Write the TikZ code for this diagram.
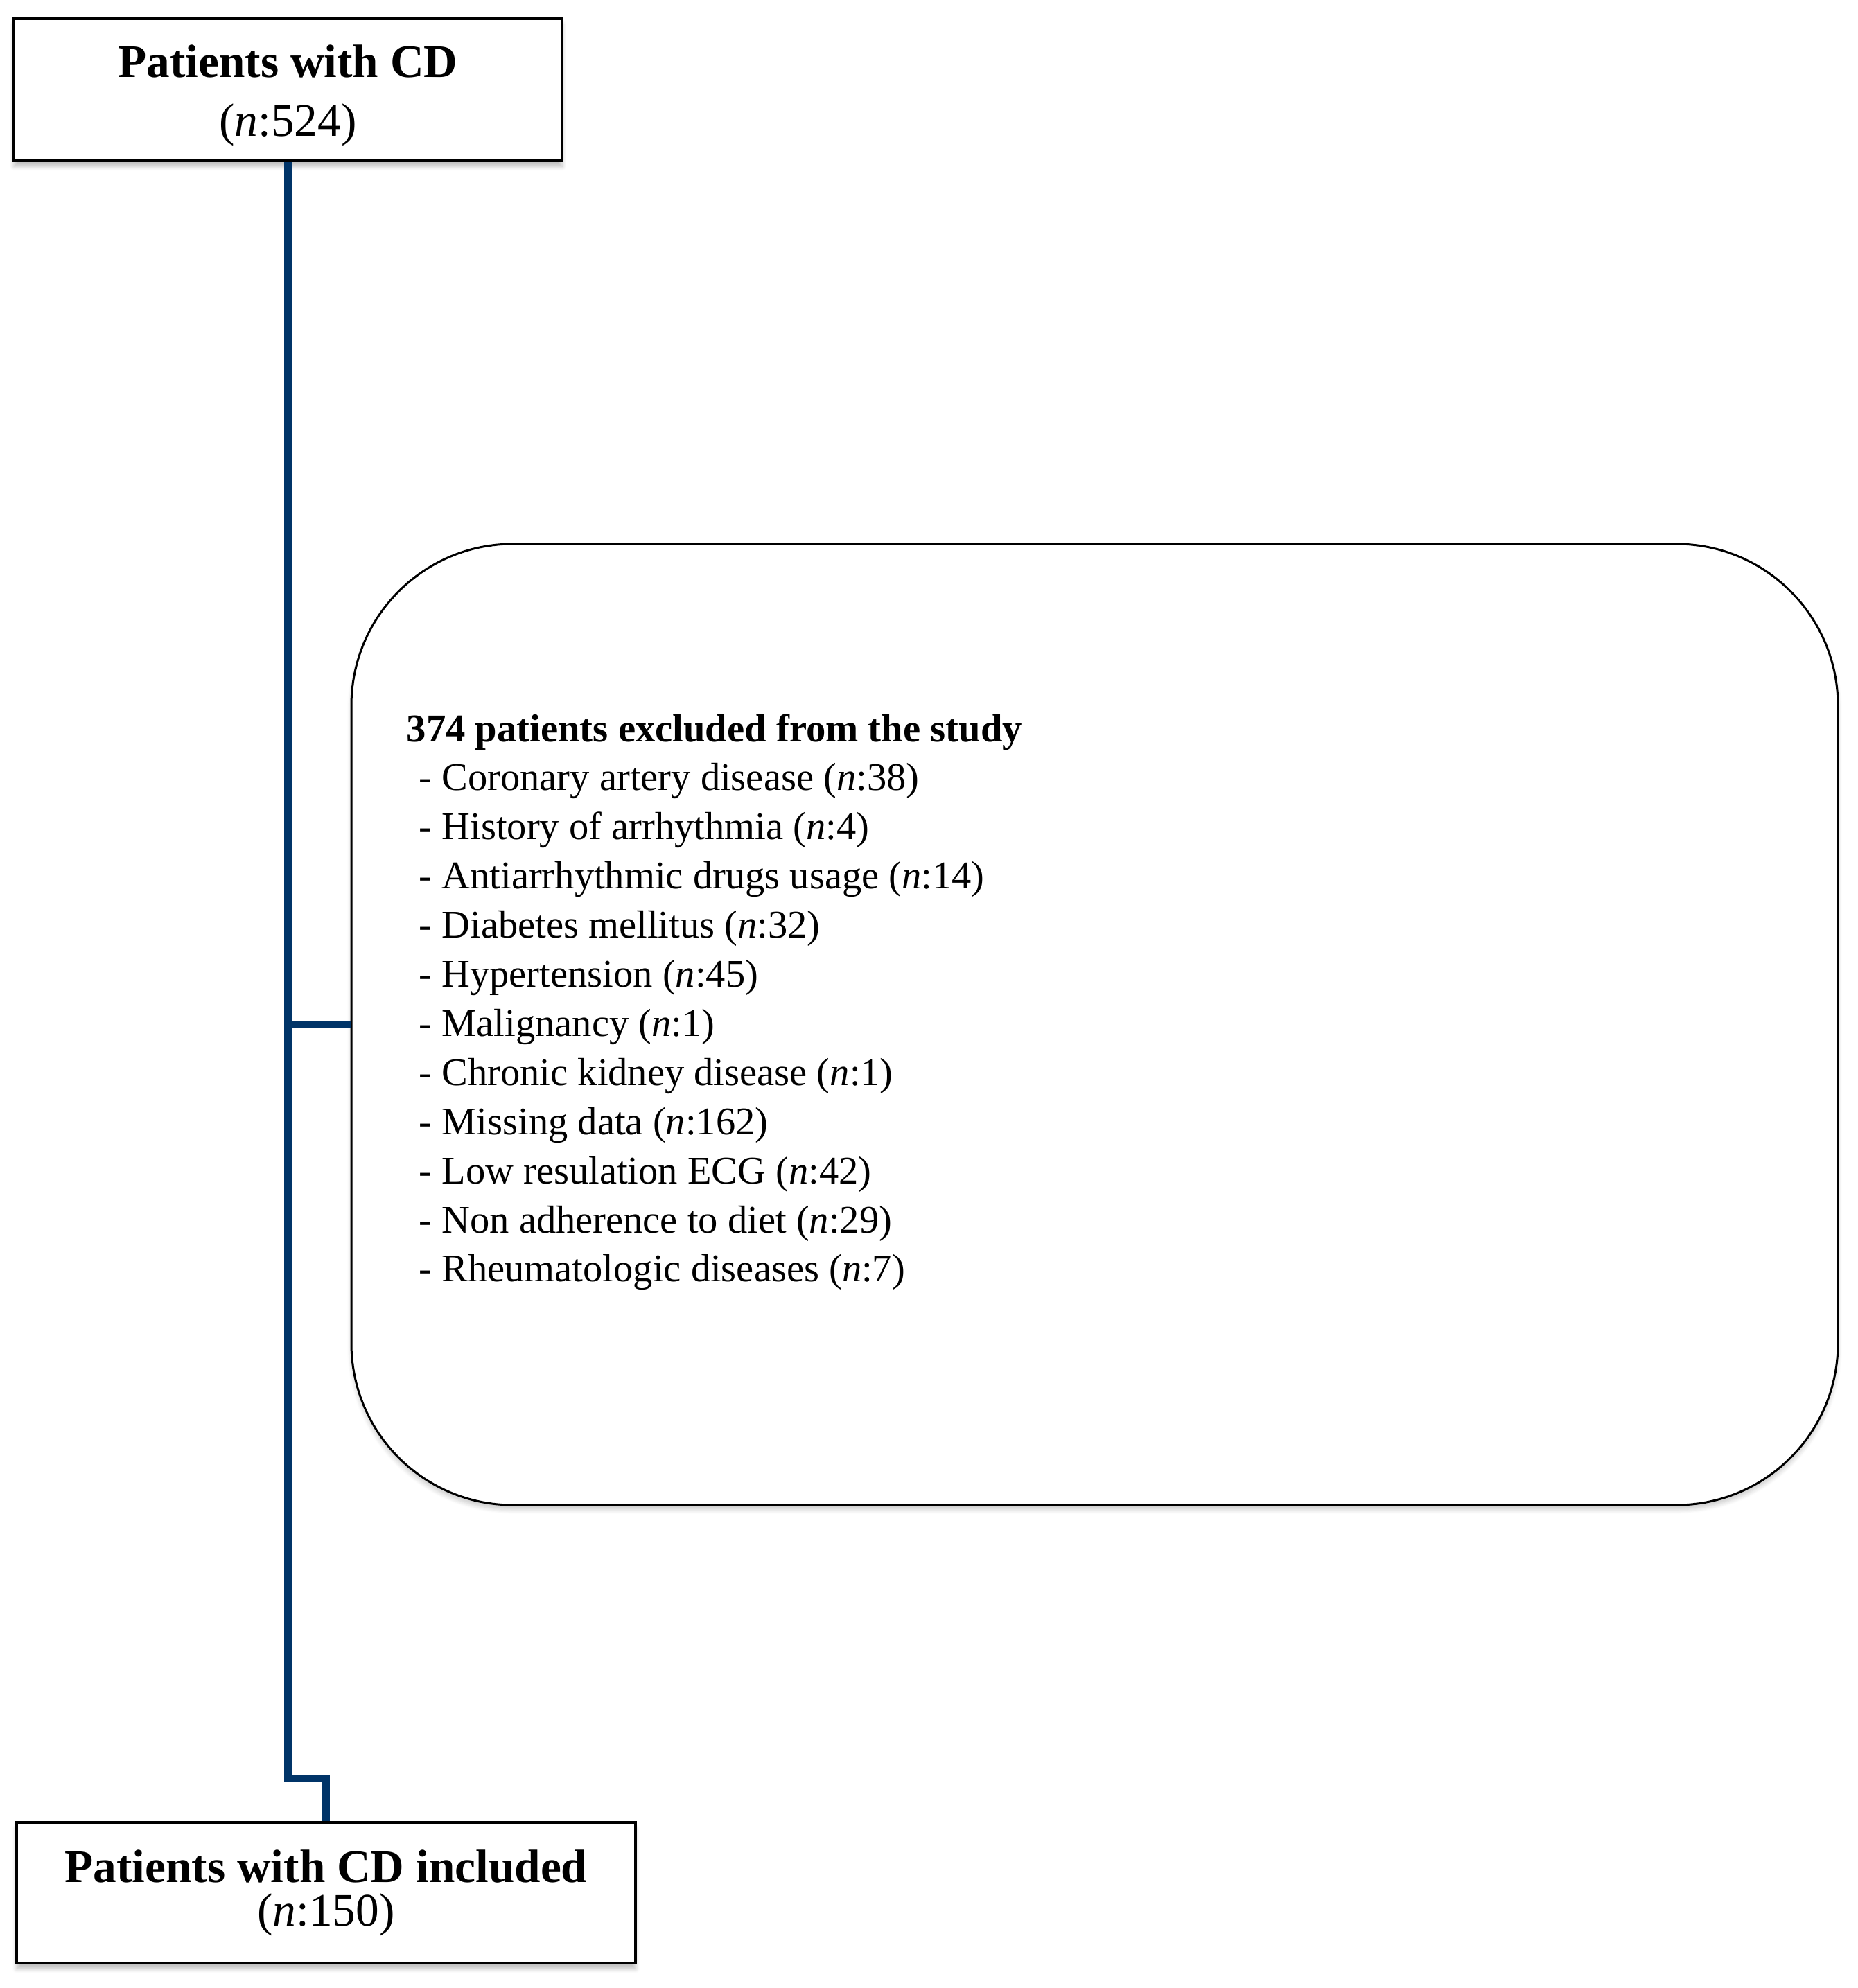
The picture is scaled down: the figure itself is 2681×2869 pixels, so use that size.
\documentclass[tikz,border=0pt]{standalone}
\usepackage{fontspec}
\setmainfont{Liberation Serif}
\usetikzlibrary{shadows.blur}
\definecolor{connblue}{RGB}{0,52,104}
\begin{document}
\begin{tikzpicture}[x=0.3pt,y=-0.3pt,
  boxstyle/.style={draw=black, line width=1.2pt, fill=white, inner sep=0pt,
    blur shadow={shadow xshift=0pt, shadow yshift=-2.5pt, shadow blur steps=6, shadow opacity=25}},
  roundbox/.style={draw=black, line width=0.9pt, fill=white, inner sep=0pt, rounded corners=70pt,
    blur shadow={shadow xshift=0pt, shadow yshift=-2pt, shadow blur steps=6, shadow opacity=20}},
  titletext/.style={font=\fontsize{20.2pt}{24pt}\selectfont\bfseries, inner sep=0pt, anchor=base},
  numtext/.style={font=\fontsize{20.2pt}{24pt}\selectfont, inner sep=0pt, anchor=base},
  headtext/.style={font=\fontsize{17pt}{21pt}\selectfont\bfseries, inner sep=0pt, anchor=base west},
  itemtext/.style={font=\fontsize{16.95pt}{21pt}\selectfont, inner sep=0pt, anchor=base west},
  conn/.style={draw=connblue, line width=3.1pt}
]
\useasboundingbox (0,0) rectangle (2681,2869);

% boxes
\node[boxstyle, minimum width=237.3pt, minimum height=61.5pt] (top) at (415.5,129.5) {};
\node[roundbox, minimum width=643.5pt, minimum height=416.1pt] (excl) at (1579.5,1478.5) {};
\node[boxstyle, minimum width=267.9pt, minimum height=60.9pt] (bot) at (470.5,2731.5) {};

% connectors
\coordinate (jog) at (470.5,2566);
\draw[conn] (top.south) |- (jog) -- (bot.north);
\draw[conn] (top.south |- excl.west) -- (excl.west);

% box texts
\node[titletext] (topA) at (415.5,112) {Patients with CD};
\node[numtext] (topB) at (415.5,197) {(\textit{n}:524)};
\node[titletext] (botA) at (470.5,2716) {Patients with CD included};
\node[numtext] (botB) at (470.5,2779) {(\textit{n}:150)};

% exclusion list
\node[headtext] (head) at (586,1070) {374 patients excluded from the study};
\foreach \t [count=\i] in {
  {Coronary artery disease (\textit{n}:38)},
  {History of arrhythmia (\textit{n}:4)},
  {Antiarrhythmic drugs usage (\textit{n}:14)},
  {Diabetes mellitus (\textit{n}:32)},
  {Hypertension (\textit{n}:45)},
  {Malignancy (\textit{n}:1)},
  {Chronic kidney disease (\textit{n}:1)},
  {Missing data (\textit{n}:162)},
  {Low resulation ECG (\textit{n}:42)},
  {Non adherence to diet (\textit{n}:29)},
  {Rheumatologic diseases (\textit{n}:7)}}
  \node[itemtext] (item\i) at (604,{1070+70.9*\i}) {- \t};
\end{tikzpicture}
\end{document}
